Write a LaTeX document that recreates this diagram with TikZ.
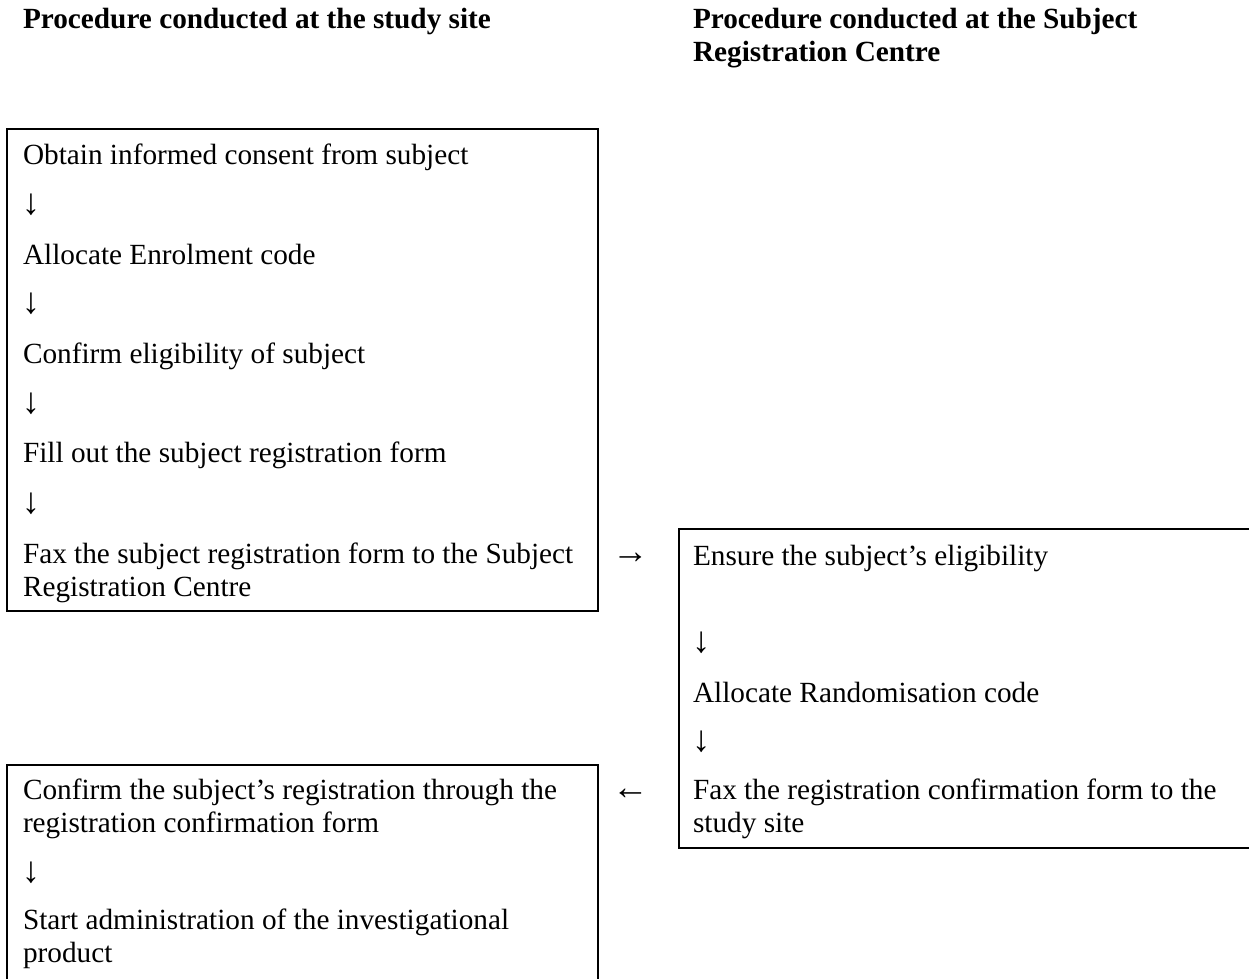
\documentclass[tikz,border=0pt]{standalone}
\usepackage{fontspec}
\setmainfont{Liberation Serif}
\begin{document}
\begin{tikzpicture}[x=0.41pt,y=-0.41pt,
  txt/.style={inner sep=0pt, outer sep=0pt, anchor=base west, font=\fontsize{12}{13.8}\selectfont},
  arr/.style={txt, font=\fontsize{15}{17}\selectfont},
  head/.style={txt, font=\fontsize{12}{13.8}\selectfont\bfseries},
  frame/.style={draw, line width=0.6pt, inner sep=0pt, outer sep=0pt, anchor=north west}]
\useasboundingbox (0,0) rectangle (1249,979);
\clip (0,0) rectangle (1249,979);

% headings
\node[head] (h1) at (23,29) {Procedure conducted at the study site};
\node[head] (h2a) at (693,29) {Procedure conducted at the Subject};
\node[head] (h2b) at (693,62) {Registration Centre};

% boxes
\node[frame, minimum width=591*0.41pt, minimum height=482*0.41pt] (site1) at (7,129) {};
\node[frame, minimum width=600*0.41pt, minimum height=319*0.41pt] (centre) at (679,529) {};
\node[frame, minimum width=591*0.41pt, minimum height=260*0.41pt] (site2) at (7,765) {};

% study site, first box
\node[txt] (s1) at (23,165) {Obtain informed consent from subject};
\node[arr] (a1) at (22,215) {↓};
\node[txt] (s2) at (23,265) {Allocate Enrolment code};
\node[arr] (a2) at (22,314) {↓};
\node[txt] (s3) at (23,364) {Confirm eligibility of subject};
\node[arr] (a3) at (22,414) {↓};
\node[txt] (s4) at (23,463) {Fill out the subject registration form};
\node[arr] (a4) at (22,514) {↓};
\node[txt] (s5a) at (23,564) {Fax the subject registration form to the Subject};
\node[txt] (s5b) at (23,597) {Registration Centre};

% between columns
\node[arr] (toright) at (612,564) {→};
\node[arr] (toleft) at (612,799) {←};

% registration centre box
\node[txt] (c1) at (693,565) {Ensure the subject’s eligibility};
\node[arr] (b1) at (692,652) {↓};
\node[txt] (c2) at (693,702) {Allocate Randomisation code};
\node[arr] (b2) at (692,751) {↓};
\node[txt] (c3a) at (693,799) {Fax the registration confirmation form to the};
\node[txt] (c3b) at (693,832) {study site};

% study site, second box
\node[txt] (r1a) at (23,799) {Confirm the subject’s registration through the};
\node[txt] (r1b) at (23,832) {registration confirmation form};
\node[arr] (d1) at (22,882) {↓};
\node[txt] (r2a) at (23,929) {Start administration of the investigational};
\node[txt] (r2b) at (23,962) {product};
\end{tikzpicture}
\end{document}
